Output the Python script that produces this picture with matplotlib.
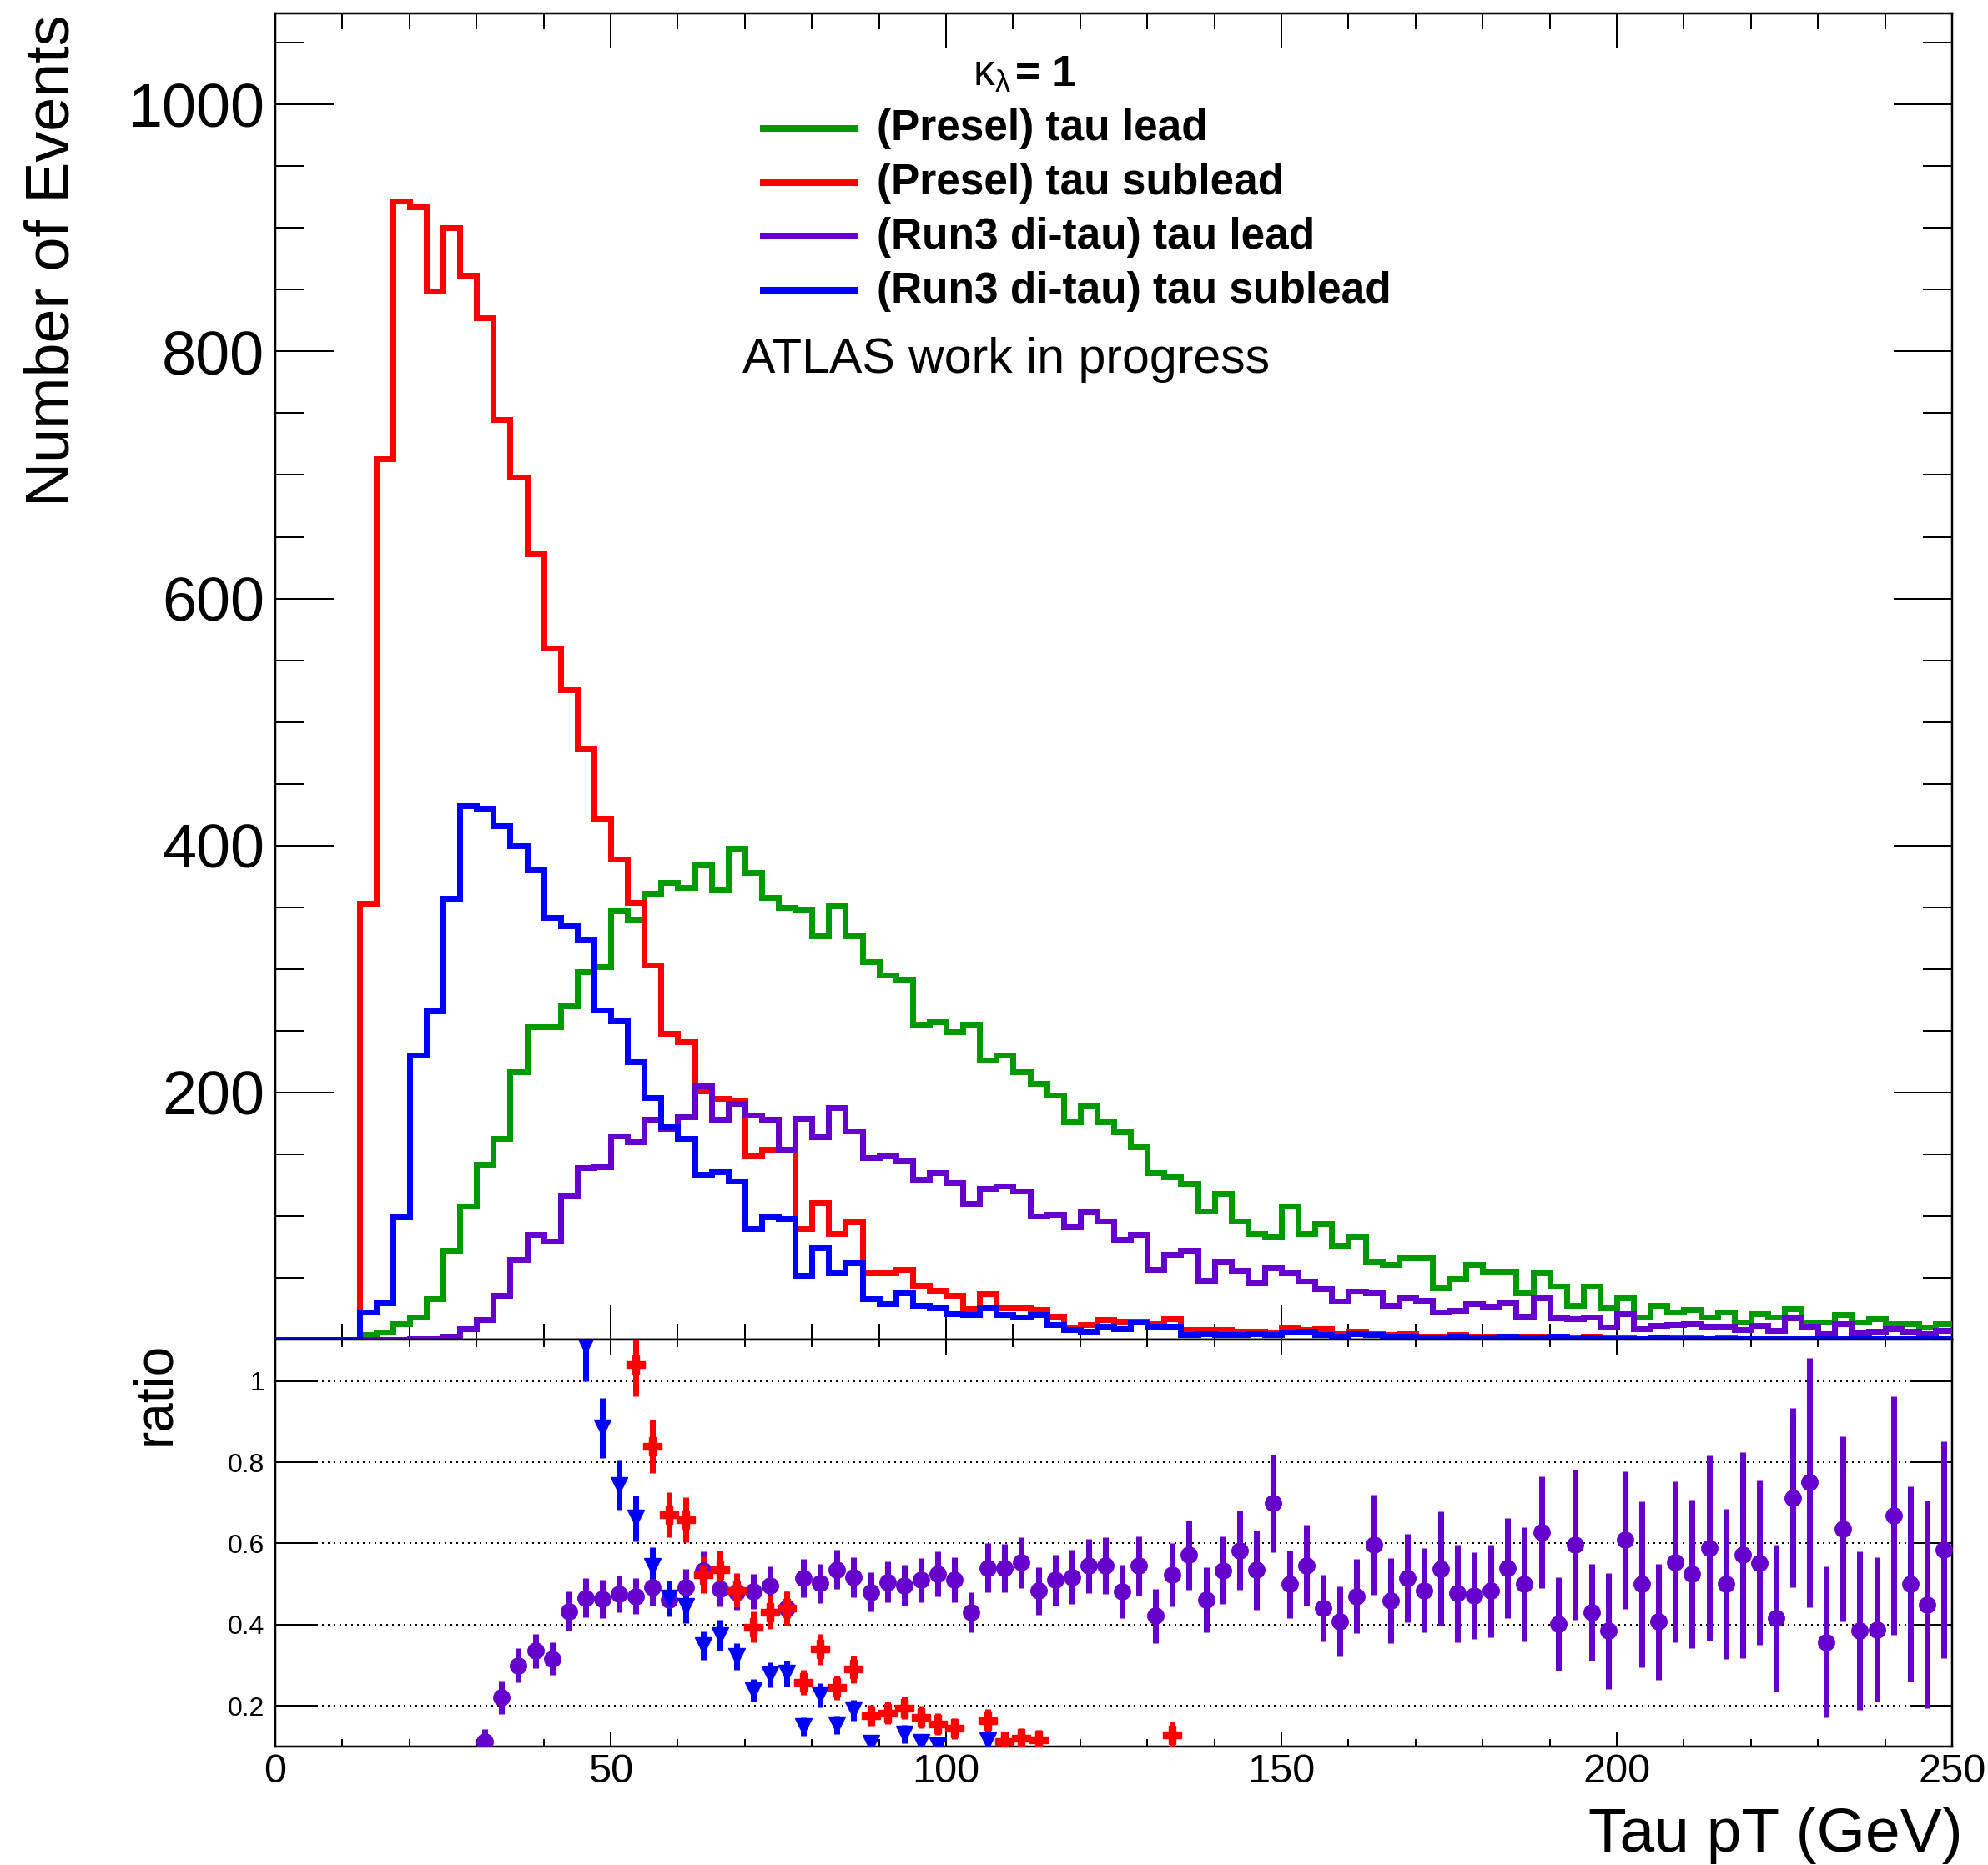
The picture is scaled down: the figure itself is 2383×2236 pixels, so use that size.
import numpy as np
import matplotlib
matplotlib.use("Agg")
import matplotlib.pyplot as plt
from matplotlib.lines import Line2D
from matplotlib.ticker import MultipleLocator, FixedLocator, FuncFormatter

plt.rcParams['font.family'] = ['Liberation Sans', 'DejaVu Sans']
plt.rcParams['mathtext.fontset'] = 'custom'
plt.rcParams['mathtext.rm'] = 'Liberation Sans'
plt.rcParams['mathtext.it'] = 'Liberation Sans:italic'
plt.rcParams['mathtext.default'] = 'regular'

# ---- binning: 100 bins of 2.5 GeV from 0 to 250 GeV ----
bin_width = 2.5
n_bins = 100
edges = np.linspace(0.0, n_bins * bin_width, n_bins + 1)

# ---- event counts per bin ----
presel_lead = [
    0, 0, 0, 0, 0, 4, 6, 13, 18, 33,
    72, 108, 142, 163, 217, 253, 253, 270, 298, 302,
    347, 340, 361, 370, 366, 384, 364, 398, 378, 358,
    350, 348, 327, 351, 327, 306, 295, 292, 255, 257,
    249, 255, 226, 230, 217, 207, 198, 176, 189, 176,
    168, 156, 135, 132, 126, 104, 118, 96, 86, 83,
    108, 86, 94, 76, 83, 63, 61, 66, 66, 42,
    49, 61, 55, 55, 38, 54, 43, 28, 43, 26,
    34, 18, 28, 22, 24, 18, 22, 14, 21, 18,
    25, 14, 14, 20, 14, 17, 13, 13, 10, 13,
]
presel_sublead = [
    0, 0, 0, 0, 0, 353, 713, 922, 917, 849,
    900, 862, 827, 745, 698, 636, 560, 526, 479, 422,
    389, 354, 303, 248, 241, 201, 195, 193, 149, 154,
    154, 90, 111, 86, 95, 54, 54, 57, 44, 40,
    36, 25, 37, 26, 26, 24, 19, 10, 12, 16,
    15, 15, 13, 17, 8, 8, 8, 7, 7, 6,
    10, 8, 9, 5, 7, 5, 4, 5, 3, 3,
    4, 3, 3, 3, 3, 3, 3, 2, 3, 2,
    2, 1, 2, 2, 2, 1, 2, 1, 1, 1,
    1, 1, 1, 1, 1, 1, 1, 1, 0.5, 1,
]
run3_lead = [
    0, 0, 0, 0, 0, 0, 0, 0, 0.5, 1,
    3, 9, 16, 36, 65, 85, 80, 117, 139, 140,
    165, 160, 178, 171, 180, 205, 178, 191, 182, 178,
    154, 179, 164, 188, 169, 147, 149, 145, 130, 135,
    127, 110, 122, 124, 120, 100, 101, 91, 103, 96,
    81, 85, 57, 69, 72, 48, 63, 56, 46, 58,
    54, 47, 41.5, 31, 39, 37.6, 28, 34, 32, 22.6,
    23.4, 28.8, 26.6, 29.7, 19, 33.9, 17.3, 16.7, 18.5, 10,
    20.7, 9, 11.4, 12.2, 12.6, 10.6, 11, 8, 11.6, 7.5,
    17.8, 10.5, 5, 12.7, 5.4, 6.6, 8.7, 6.5, 4.5, 7.6,
]
run3_sublead = [
    0, 0, 0, 0, 0, 22, 30, 99, 230, 266,
    357, 432, 430, 416, 400, 380, 342, 335, 324, 267,
    258, 225, 196, 172, 163, 134, 136, 128, 90, 99,
    98, 52, 74, 54, 62, 33, 29, 38, 28, 26,
    21, 20, 26, 20, 18, 20, 12, 8, 7, 11,
    9, 14, 11, 11, 4, 5, 4, 4, 5, 4,
    6, 7, 4, 3, 5, 4, 3, 3, 2, 2,
    3, 2, 2, 3, 2, 2, 3, 1, 2, 1,
    1, 1, 2, 1, 1, 1, 1, 1, 1, 1,
    1, 0.5, 1, 1, 0.5, 1, 1, 0.5, 0.5, 0.5,
]

series_labels = [
    '(Presel) tau lead',
    '(Presel) tau sublead',
    '(Run3 di-tau) tau lead',
    '(Run3 di-tau) tau sublead',
]
GREEN, RED, PURPLE, BLUE = '#009900', '#ff0000', '#6600cc', '#0000ff'
series = [
    (np.array(presel_lead, float), GREEN),
    (np.array(presel_sublead, float), RED),
    (np.array(run3_lead, float), PURPLE),
    (np.array(run3_sublead, float), BLUE),
]

x_label = 'Tau pT (GeV)'
y_label = 'Number of Events'
ratio_label = 'ratio'
header_symbol = r'$\kappa_{\lambda}$'
header_value = '= 1'
tag_text = 'ATLAS work in progress'

# ---- figure geometry (pixels) ----
W, H = 2383, 2236
fig = plt.figure(figsize=(W / 100, H / 100), dpi=100)
left, right = 330, 2340
top_main, split, bottom = 15.7, 1606, 2094
ax = fig.add_axes([left / W, 1 - split / H, (right - left) / W, (split - top_main) / H])
rax = fig.add_axes([left / W, 1 - bottom / H, (right - left) / W, (bottom - split) / H])

px = 0.72  # points per pixel at 100 dpi

# ---- upper pad: histograms ----
for vals, col in series:
    sp = ax.stairs(vals, edges, color=col, lw=7 * px, baseline=None, zorder=3)
    sp.set_joinstyle('miter')
    sp.set_capstyle('butt')

ax.set_xlim(0, 250)
ax.set_ylim(0, 1074)
ax.xaxis.set_major_locator(MultipleLocator(50))
ax.xaxis.set_minor_locator(MultipleLocator(10))
ax.yaxis.set_major_locator(FixedLocator([0, 200, 400, 600, 800, 1000]))
ax.yaxis.set_minor_locator(MultipleLocator(50))
ax.yaxis.set_major_formatter(FuncFormatter(lambda v, p: '' if v == 0 else f'{v:.0f}'))
ax.tick_params(which='both', direction='in', top=True, right=True, labelbottom=False,
               width=2 * px, colors='black')
ax.tick_params(axis='x', which='major', length=41 * px)
ax.tick_params(axis='x', which='minor', length=19 * px)
ax.tick_params(axis='y', which='major', length=70 * px, labelsize=53, pad=13 * px)
ax.tick_params(axis='y', which='minor', length=35 * px)
for s in ax.spines.values():
    s.set_linewidth(2.5 * px)

# ---- lower pad: ratios to (Presel) tau lead ----
r_min, r_max = 0.1, 1.102
centers = 0.5 * (edges[:-1] + edges[1:])
den = series[0][0]
ratio_styles = [
    (series[2][0], PURPLE, 'o', 14),
    (series[1][0], RED, 'P', 16),
    (series[3][0], BLUE, 'v', 15),
]
for num, col, mk, ms in ratio_styles:
    ok = (num > 0) & (den > 0)
    safe_num = np.where(ok, num, 1.0)
    safe_den = np.where(ok, den, 1.0)
    r = safe_num / safe_den
    err = r * np.sqrt(1 / safe_num + 1 / safe_den)
    # points outside the pad range are not drawn at all
    show = ok & (r >= r_min) & (r <= r_max)
    rax.errorbar(centers[show], r[show], yerr=err[show], fmt=mk, color=col, ms=ms,
                 mec=col, elinewidth=7 * px, capsize=0, zorder=3)

rax.set_xlim(0, 250)
rax.set_ylim(r_min, r_max)
ratio_ticks = [0.2, 0.4, 0.6, 0.8, 1.0]
rax.yaxis.set_major_locator(FixedLocator(ratio_ticks))
rax.yaxis.set_major_formatter(FuncFormatter(lambda v, p: f'{v:g}'))
rax.xaxis.set_major_locator(MultipleLocator(50))
rax.xaxis.set_minor_locator(MultipleLocator(10))
rax.tick_params(which='both', direction='in', top=True, right=True, width=2 * px)
rax.tick_params(axis='x', which='major', length=18 * px, labelsize=35, pad=6)
rax.tick_params(axis='x', which='minor', length=9 * px)
rax.tick_params(axis='y', which='major', length=50 * px, labelsize=23, pad=13 * px)
rax.yaxis.grid(True, which='major', linestyle=(0, (1, 2.5)), color='black', lw=2 * px, zorder=1)
for s in rax.spines.values():
    s.set_linewidth(2.5 * px)

# ---- axis titles ----
fig.text(63 / W, 1 - 18 / H, y_label, rotation=90, ha='center', va='top', fontsize=53)
fig.text(186 / W, 1 - 1609 / H, ratio_label, rotation=90, ha='center', va='top', fontsize=46)
fig.text(2353 / W, 1 - 2220 / H, x_label, ha='right', va='baseline', fontsize=54)

# ---- legend block ----
fig.text(1166 / W, 1 - 103 / H, header_symbol, fontsize=37, va='baseline')
fig.text(1217 / W, 1 - 103 / H, header_value, fontsize=37, fontweight='bold', va='baseline')
for i, ((vals, col), lab) in enumerate(zip(series, series_labels)):
    y_line = 154 + 64.7 * i
    y_base = 168 + 65 * i
    fig.add_artist(Line2D([911 / W, 1029 / W], [1 - y_line / H] * 2, color=col, lw=8 * px,
                          solid_capstyle='butt'))
    fig.text(1051 / W, 1 - y_base / H, lab, fontsize=37, fontweight='bold', va='baseline')

fig.text(890 / W, 1 - 447 / H, tag_text, fontsize=42.5, va='baseline')

fig.savefig('out.png', dpi=100)
